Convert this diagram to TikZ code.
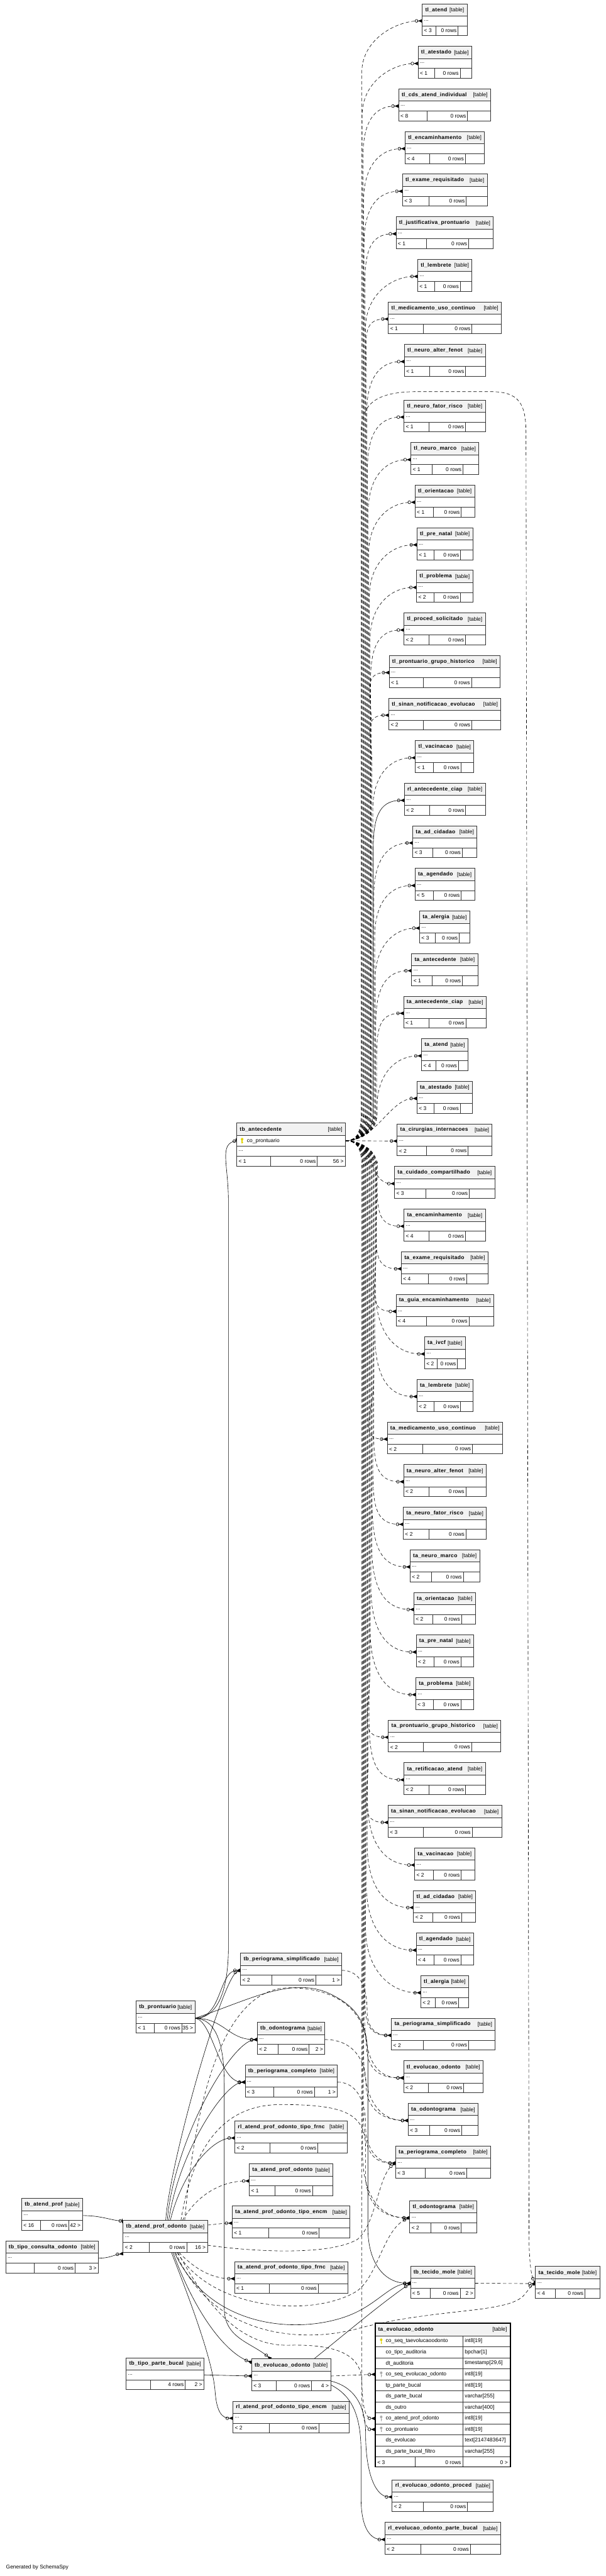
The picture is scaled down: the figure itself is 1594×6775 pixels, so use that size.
\documentclass[tikz,border=0pt]{standalone}
\usepackage{fontspec}
\setmainfont{Liberation Sans}
\newfontfamily\ttlfont[LetterSpace=4]{Liberation Sans}
\usetikzlibrary{arrows.meta,calc}
\pgfdeclarelayer{back}
\pgfdeclarelayer{edges}
\pgfsetlayers{back,edges,main}
\definecolor{hdr}{HTML}{F2F2F2}
\definecolor{bord}{HTML}{333333}
\definecolor{keyY}{HTML}{E2D400}
\definecolor{keyG}{HTML}{ABABAB}
\tikzset{
  every node/.style={inner sep=0pt, outer sep=0pt},
  ttl/.style={font=\ttlfont\bfseries\fontsize{10.5}{12}\selectfont, anchor=west},
  sub/.style={font=\fontsize{10.5}{12}\selectfont},
  tblbox/.style={draw=bord, line width=1.1pt, anchor=north west},
  rel/.style={line width=0.75pt, draw=black},
  dsh/.style={rel, dash pattern=on 6.5pt off 4.5pt},
  many/.style={-{Circle[open,length=6.5pt,width=6.5pt,line width=0.8pt] Triangle[reversed,length=8pt,width=7pt]}},
  one/.style={-{Circle[open,length=6.5pt,width=6.5pt,line width=0.8pt] Bar[width=9pt,line width=1.6pt]}},
}
% table: id, x, y, width, title, footer left, footer mid, footer right
\newcommand{\tbl}[8]{%
  \pgfmathsetmacro{\sA}{#2+0.31*#4}%
  \pgfmathsetmacro{\sB}{#2+#4-max(0.3*#4-12,20)}%
  \fill[white] (#2,#3) rectangle ++(#4,84);
  \fill[hdr] (#2,#3) rectangle ++(#4,32);
  \draw[bord, line width=1pt] (#2,#3+32) -- ++(#4,0) (#2,#3+58) -- ++(#4,0) (\sA,#3+58) -- ++(0,26) (\sB,#3+58) -- ++(0,26);
  \node[tblbox, minimum width=#4*0.75pt, minimum height=84*0.75pt] (#1) at (#2,#3) {};
  \node[ttl] (#1-t) at (#2+8,#3+16) {#5};
  \node[sub, anchor=east] (#1-k) at (#2+#4-8,#3+17) {[table]};
  \node[sub, anchor=west] (#1-d) at (#2+5,#3+44) {...};
  \node[sub, anchor=west] (#1-f1) at (#2+5,#3+71) {#6};
  \node[sub, anchor=east] (#1-f2) at (\sB-4,#3+71) {#7};
  \node[sub, anchor=east] (#1-f3) at (#2+#4-5,#3+71) {#8};
  \coordinate (#1-in) at (#2,#3+45);
  \coordinate (#1-out) at (#2+#4,#3+45);
}
\newcommand{\keyicon}[3]{%
  \fill[#3] (#1,#2-4) circle[radius=3.4];
  \draw[#3, line width=1.6pt] (#1,#2-2) -- (#1,#2+7);
  \draw[#3, line width=1.2pt] (#1,#2+4) -- (#1+2.8,#2+4);
}
\begin{document}
\begin{tikzpicture}[x=0.75pt,y=-0.75pt]
\begin{pgfonlayer}{back}
\fill[white] (0,0) rectangle (1594,6775);
\end{pgfonlayer}
\useasboundingbox (0,0) rectangle (1594,6775);

% ---------- right column ----------
\tbl{tlatend}{1111}{10}{118}{tl\_atend}{< 3}{0 rows}{}
\tbl{tlatestado}{1100}{122}{141}{tl\_atestado}{< 1}{0 rows}{}
\tbl{tlcds}{1049}{234}{242}{tl\_cds\_atend\_individual}{< 8}{0 rows}{}
\tbl{tlenc}{1066}{346}{209}{tl\_encaminhamento}{< 4}{0 rows}{}
\tbl{tlexame}{1059}{458}{223}{tl\_exame\_requisitado}{< 3}{0 rows}{}
\tbl{tljust}{1042}{570}{256}{tl\_justificativa\_prontuario}{< 1}{0 rows}{}
\tbl{tllemb}{1099}{682}{143}{tl\_lembrete}{< 1}{0 rows}{}
\tbl{tlmedic}{1022}{794}{297}{tl\_medicamento\_uso\_continuo}{< 1}{0 rows}{}
\tbl{tlneuroalter}{1064}{906}{213}{tl\_neuro\_alter\_fenot}{< 1}{0 rows}{}
\tbl{tlneurofator}{1063}{1052}{214}{tl\_neuro\_fator\_risco}{< 1}{0 rows}{}
\tbl{tlneuromarco}{1081}{1164}{179}{tl\_neuro\_marco}{< 1}{0 rows}{}
\tbl{tlorient}{1092}{1276}{157}{tl\_orientacao}{< 1}{0 rows}{}
\tbl{tlprenatal}{1097}{1388}{147}{tl\_pre\_natal}{< 1}{0 rows}{}
\tbl{tlproblema}{1096}{1500}{148}{tl\_problema}{< 2}{0 rows}{}
\tbl{tlproced}{1063}{1612}{214}{tl\_proced\_solicitado}{< 2}{0 rows}{}
\tbl{tlprontgrupo}{1024}{1724}{292}{tl\_prontuario\_grupo\_historico}{< 1}{0 rows}{}
\tbl{tlsinan}{1023}{1836}{295}{tl\_sinan\_notificacao\_evolucao}{< 2}{0 rows}{}
\tbl{tlvacina}{1093}{1948}{154}{tl\_vacinacao}{< 1}{0 rows}{}
\tbl{rlanteciap}{1064}{2060}{213}{rl\_antecedente\_ciap}{< 2}{0 rows}{}
\tbl{taadcid}{1086}{2172}{169}{ta\_ad\_cidadao}{< 3}{0 rows}{}
\tbl{taagend}{1092}{2284}{157}{ta\_agendado}{< 5}{0 rows}{}
\tbl{taalergia}{1104}{2396}{132}{ta\_alergia}{< 3}{0 rows}{}
\tbl{taantec}{1083}{2508}{174}{ta\_antecedente}{< 1}{0 rows}{}
\tbl{taanteciap}{1062}{2620}{217}{ta\_antecedente\_ciap}{< 1}{0 rows}{}
\tbl{taatend}{1109}{2732}{122}{ta\_atend}{< 4}{0 rows}{}
\tbl{taatestado}{1097}{2844}{146}{ta\_atestado}{< 3}{0 rows}{}
\tbl{tacirurg}{1045}{2956}{250}{ta\_cirurgias\_internacoes}{< 2}{0 rows}{}
\tbl{tacuidado}{1038}{3068}{264}{ta\_cuidado\_compartilhado}{< 3}{0 rows}{}
\tbl{taencam}{1063}{3180}{214}{ta\_encaminhamento}{< 4}{0 rows}{}
\tbl{taexame}{1056}{3292}{228}{ta\_exame\_requisitado}{< 4}{0 rows}{}
\tbl{taguia}{1042}{3404}{257}{ta\_guia\_encaminhamento}{< 4}{0 rows}{}
\tbl{taivcf}{1117}{3516}{107}{ta\_ivcf}{< 2}{0 rows}{}
\tbl{talemb}{1097}{3628}{147}{ta\_lembrete}{< 2}{0 rows}{}
\tbl{tamedic}{1019}{3740}{303}{ta\_medicamento\_uso\_continuo}{< 2}{0 rows}{}
\tbl{taneuroalter}{1062}{3852}{217}{ta\_neuro\_alter\_fenot}{< 2}{0 rows}{}
\tbl{taneurofator}{1061}{3964}{219}{ta\_neuro\_fator\_risco}{< 2}{0 rows}{}
\tbl{taneuromarco}{1079}{4076}{183}{ta\_neuro\_marco}{< 2}{0 rows}{}
\tbl{taorient}{1089}{4188}{162}{ta\_orientacao}{< 2}{0 rows}{}
\tbl{taprenatal}{1095}{4300}{151}{ta\_pre\_natal}{< 2}{0 rows}{}
\tbl{taproblema}{1094}{4412}{152}{ta\_problema}{< 3}{0 rows}{}
\tbl{taprontgrupo}{1022}{4524}{296}{ta\_prontuario\_grupo\_historico}{< 2}{0 rows}{}
\tbl{taretif}{1063}{4636}{214}{ta\_retificacao\_atend}{< 2}{0 rows}{}
\tbl{tasinan}{1021}{4748}{299}{ta\_sinan\_notificacao\_evolucao}{< 3}{0 rows}{}
\tbl{tavacina}{1091}{4860}{158}{ta\_vacinacao}{< 2}{0 rows}{}
\tbl{tladcid}{1088}{4972}{164}{tl\_ad\_cidadao}{< 2}{0 rows}{}
\tbl{tlagend}{1095}{5084}{151}{tl\_agendado}{< 4}{0 rows}{}
\tbl{tlalergia}{1107}{5196}{126}{tl\_alergia}{< 2}{0 rows}{}
\tbl{taperiosimp}{1030}{5308}{273}{ta\_periograma\_simplificado}{< 2}{0 rows}{}
\tbl{tlevolodonto}{1062}{5420}{209}{tl\_evolucao\_odonto}{< 2}{0 rows}{}
\tbl{taodontograma}{1074}{5532}{184}{ta\_odontograma}{< 3}{0 rows}{}
\tbl{taperiocomp}{1041}{5644}{250}{ta\_periograma\_completo}{< 3}{0 rows}{}
\tbl{tlodontograma}{1078}{5788}{177}{tl\_odontograma}{< 2}{0 rows}{}
\tbl{tbtecidomole}{1080}{5960}{170}{tb\_tecido\_mole}{< 5}{0 rows}{2 >}
\tbl{tatecidomole}{1409}{5961}{169}{ta\_tecido\_mole}{< 4}{0 rows}{}
\tbl{rlevolproced}{1032}{6522}{266}{rl\_evolucao\_odonto\_proced}{< 2}{0 rows}{}
\tbl{rlevolparte}{1013}{6634}{304}{rl\_evolucao\_odonto\_parte\_bucal}{< 2}{0 rows}{}

% ---------- middle and left ----------
\tbl{tbpront}{358}{5263}{155}{tb\_prontuario}{< 1}{0 rows}{35 >}
\tbl{tbperiosimp}{633}{5137}{266}{tb\_periograma\_simplificado}{< 2}{0 rows}{1 >}
\tbl{tbodontograma}{677}{5319}{178}{tb\_odontograma}{< 2}{0 rows}{2 >}
\tbl{tbperiocomp}{645}{5431}{243}{tb\_periograma\_completo}{< 3}{0 rows}{1 >}
\tbl{rlapotfrnc}{618}{5578}{295}{rl\_atend\_prof\_odonto\_tipo\_frnc}{< 2}{0 rows}{}
\tbl{taapo}{656}{5691}{220}{ta\_atend\_prof\_odonto}{< 1}{0 rows}{}
\tbl{taapoencm}{611}{5802}{310}{ta\_atend\_prof\_odonto\_tipo\_encm}{< 1}{0 rows}{}
\tbl{taapofrnc}{617}{5948}{298}{ta\_atend\_prof\_odonto\_tipo\_frnc}{< 1}{0 rows}{}
\tbl{tbevol}{662}{6204}{208}{tb\_evolucao\_odonto}{< 3}{0 rows}{4 >}
\tbl{rlapoencm}{613}{6315}{306}{rl\_atend\_prof\_odonto\_tipo\_encm}{< 2}{0 rows}{}
\tbl{tbatendprof}{57}{5782}{160}{tb\_atend\_prof}{< 16}{0 rows}{42 >}
\tbl{tbtipocons}{15}{5894}{244}{tb\_tipo\_consulta\_odonto}{}{0 rows}{3 >}
\tbl{tbapo}{324}{5840}{222}{tb\_atend\_prof\_odonto}{< 2}{0 rows}{16 >}
\tbl{tbtipoparte}{332}{6201}{205}{tb\_tipo\_parte\_bucal}{}{4 rows}{2 >}

% ---------- tb_antecedente ----------
\fill[white] (623,2954) rectangle ++(286,113);
\fill[hdr] (623,2954) rectangle ++(286,32);
\draw[bord, line width=1pt] (623,2986) -- ++(286,0) (623,3015) -- ++(286,0) (623,3041) -- ++(286,0) (712,3041) -- ++(0,26) (835,3041) -- ++(0,26);
\node[tblbox, minimum width=286*0.75pt, minimum height=113*0.75pt] (tbante) at (623,2954) {};
\node[ttl] (tbante-t) at (631,2970) {tb\_antecedente};
\node[sub, anchor=east] (tbante-k) at (901,2971) {[table]};
\keyicon{637}{3000}{keyY}
\node[sub, anchor=west] (tbante-c) at (650,3001) {co\_prontuario};
\node[sub, anchor=west] (tbante-d) at (628,3027) {...};
\node[sub, anchor=west] (tbante-f1) at (628,3055) {< 1};
\node[sub, anchor=east] (tbante-f2) at (831,3055) {0 rows};
\node[sub, anchor=east] (tbante-f3) at (904,3055) {56 >};
\coordinate (tbante-in) at (623,3000);
\coordinate (tbante-out) at (909,3000);

% ---------- ta_evolucao_odonto ----------
\fill[white] (987,6110) rectangle ++(356,378);
\fill[hdr] (987,6110) rectangle ++(356,33);
\foreach \i in {0,...,11} \draw[bord, line width=1pt] (987,6143+29*\i) -- ++(356,0);
\draw[bord, line width=1pt] (1218,6143) -- (1218,6488) (1093,6462) -- (1093,6488);
\node[draw=black, line width=2.2pt, anchor=north west, minimum width=356*0.75pt, minimum height=378*0.75pt] (taevol) at (987,6110) {};
\node[ttl] (taevol-t) at (995,6126) {ta\_evolucao\_odonto};
\node[sub, anchor=east] (taevol-k) at (1334,6127) {[table]};
\foreach \i/\cn/\ty in {1/co\_seq\_taevolucaoodonto/int8[19], 2/co\_tipo\_auditoria/bpchar[1], 3/dt\_auditoria/{timestamp[29,6]}, 4/co\_seq\_evolucao\_odonto/int8[19], 5/tp\_parte\_bucal/int8[19], 6/ds\_parte\_bucal/varchar[255], 7/ds\_outro/varchar[400], 8/co\_atend\_prof\_odonto/int8[19], 9/co\_prontuario/int8[19], 10/ds\_evolucao/text[2147483647], 11/ds\_parte\_bucal\_filtro/varchar[255]} {
  \node[sub, anchor=west] (taevol-n\i) at (1015,6128.5+29*\i) {\cn};
  \node[sub, anchor=west] (taevol-y\i) at (1223,6128.5+29*\i) {\ty};
  \coordinate (taevol-r\i) at (987,6128.5+29*\i);
}
\keyicon{1003}{6157.5}{keyY}
\keyicon{1003}{6244.5}{keyG}
\keyicon{1003}{6360.5}{keyG}
\keyicon{1003}{6389.5}{keyG}
\node[sub, anchor=west] (taevol-f1) at (993,6476) {< 3};
\node[sub, anchor=east] (taevol-f2) at (1213,6476) {0 rows};
\node[sub, anchor=east] (taevol-f3) at (1336,6476) {0 >};

\node[sub, anchor=west] (gen) at (16,6753) {Generated by SchemaSpy};

% ---------- ports ----------
\coordinate (tbapo-in1) at (323,5841);
\coordinate (tbapo-in2) at (324,5927);
\coordinate (tbapo-t1) at (436,5840);
\coordinate (tbapo-t2) at (440,5840);
\coordinate (tbapo-t3) at (444,5840);
\coordinate (tbapo-t4) at (448,5840);
\coordinate (tbapo-t5) at (480,5840);
\coordinate (tbapo-t6) at (486,5840);
\coordinate (tbapo-t7) at (476,5840);
\coordinate (tbapo-r1) at (546,5852);
\coordinate (tbapo-r2) at (546,5905);
\coordinate (tbapo-b1) at (471,5924);
\coordinate (tbapo-b2) at (455,5924);
\coordinate (tbapo-b3) at (451,5924);
\coordinate (tbapo-b4) at (459,5924);
\coordinate (tbapo-b5) at (466,5924);
\coordinate (tbapo-b6) at (462,5924);
\coordinate (tbapo-b7) at (468,5924);
\coordinate (tbevol-top) at (712,6204);
\coordinate (tbevol-tl) at (662,6213);
\coordinate (tbevol-tr) at (826,6204);
\coordinate (tbevol-o2) at (870,6262);
\coordinate (tbevol-o3) at (870,6272);

% ---------- connectors ----------
\begin{pgfonlayer}{edges}
\foreach \nm/\yt/\vx/\st in {tlatend/55/952/dsh, tlatestado/167/953/dsh, tlcds/279/955/dsh, tlenc/391/957/dsh, tlexame/503/958/dsh, tljust/615/960/dsh, tllemb/727/962/dsh, tlmedic/839/964/dsh, tlneuroalter/951/965/dsh, tlneurofator/1097/967/dsh, tlneuromarco/1209/969/dsh, tlorient/1321/970/dsh, tlprenatal/1433/972/dsh, tlproblema/1545/974/dsh, tlproced/1657/975/dsh, tlprontgrupo/1769/977/dsh, tlsinan/1881/979/dsh, tlvacina/1993/981/dsh, rlanteciap/2105/982/rel, taadcid/2217/984/dsh, taagend/2329/986/dsh, taalergia/2441/987/dsh, taantec/2553/989/dsh, taanteciap/2665/991/dsh, taatend/2777/992/dsh} {
  \draw[\st,many] (tbante-out) .. controls (935,3000) and (\vx,2985) .. (\vx,2930) -- (\vx,\yt+135) .. controls (\vx,\yt+50) and ($(\nm-in)+(-70,0)$) .. (\nm-in);
}
\draw[dsh,many] (tbante-out) .. controls (990,3000) and ($(taatestado-in)+(-70,0)$) .. (taatestado-in);
\draw[dsh,many] (tbante-out) -- (tacirurg-in);
\draw[dsh,many] (tbante-out) .. controls (990,3000) and ($(tacuidado-in)+(-70,0)$) .. (tacuidado-in);
\foreach \nm/\yt/\vx/\st in {taencam/3225/993/dsh, taexame/3337/991/dsh, taguia/3449/990/dsh, taivcf/3561/988/dsh, talemb/3673/986/dsh, tamedic/3785/984/dsh, taneuroalter/3897/983/dsh, taneurofator/4009/981/dsh, taneuromarco/4121/979/dsh, taorient/4233/978/dsh, taprenatal/4345/976/dsh, taproblema/4457/974/dsh, taprontgrupo/4569/973/dsh, taretif/4681/971/dsh, tasinan/4793/969/dsh, tavacina/4905/967/dsh, tladcid/5017/966/dsh, tlagend/5129/964/dsh, tlalergia/5241/962/dsh, taperiosimp/5353/961/dsh, tlevolodonto/5465/959/dsh, taodontograma/5577/957/dsh, taperiocomp/5689/956/dsh, tlodontograma/5833/954/dsh} {
  \draw[\st,many] (tbante-out) .. controls (935,3000) and (\vx,3015) .. (\vx,3070) -- (\vx,\yt-170) .. controls (\vx,\yt-60) and ($(\nm-in)+(-80,0)$) .. (\nm-in);
}
\draw[dsh,many] (tbante-out) .. controls (935,3000) and (952,3015) .. (952,3070) -- (952,6300) .. controls (952,6360) and (962,6389) .. (taevol-r9);
\draw[dsh,many] (tbante-out) .. controls (935,3000) and (950,2985) .. (950,2930) -- (950,1140) .. controls (950,1060) and (990,1030) .. (1100,1030) -- (1290,1030) .. controls (1365,1030) and (1384,1060) .. (1384,1140) -- (1392,5900) .. controls (1394,5960) and (1398,5985) .. (tatecidomole-in);

% tb_prontuario
\draw[rel,one] (tbpront-out) .. controls (575,5308) and (601,5230) .. (601,5120) -- (601,3160) .. controls (601,3060) and (575,3008) .. (tbante-in);
\draw[rel,many] (tbpront-out) .. controls (585,5308) and (575,5182) .. (tbperiosimp-in);
\draw[rel,many] (tbpront-out) .. controls (590,5308) and (600,5364) .. (tbodontograma-in);
\draw[rel,many] (tbpront-out) .. controls (560,5312) and (575,5476) .. (tbperiocomp-in);
\draw[rel,many] (tbpront-out) .. controls (570,5310) and (590,5380) .. (590,5480) -- (590,6070) .. controls (590,6150) and (660,6160) .. (tbevol-top);
\draw[rel,many] (tbpront-out) .. controls (650,5262) and (760,5200) .. (860,5240) .. controls (950,5280) and (968,5330) .. (968,5420) -- (968,5860) .. controls (968,5950) and (1010,6005) .. (tbtecidomole-in);

% tb_atend_prof_odonto
\draw[rel,many] (tbapo-t1) .. controls (446,5690) and (585,5200) .. (tbperiosimp-in);
\draw[rel,many] (tbapo-t2) .. controls (460,5620) and (610,5370) .. (tbodontograma-in);
\draw[rel,many] (tbapo-t3) .. controls (470,5660) and (590,5480) .. (tbperiocomp-in);
\draw[rel,many] (tbapo-t4) .. controls (480,5710) and (560,5623) .. (rlapotfrnc-in);
\draw[dsh,many] (tbapo-t5) .. controls (520,5770) and (585,5736) .. (taapo-in);
\draw[dsh,many] (tbapo-r1) .. controls (570,5850) and (585,5847) .. (taapoencm-in);
\draw[dsh,many] (tbapo-b1) .. controls (520,5975) and (565,5993) .. (taapofrnc-in);
\draw[rel,many] (tbapo-b2) .. controls (520,6100) and (600,6190) .. (tbevol-tl);
\draw[rel,many] (tbapo-b3) .. controls (540,6150) and (562,6240) .. (566,6290) .. controls (570,6345) and (585,6360) .. (rlapoencm-in);
\draw[rel,many] (tbapo-b4) .. controls (560,6140) and (820,6140) .. (940,6080) .. controls (1000,6050) and (1030,6008) .. (tbtecidomole-in);
\draw[dsh,many] (tbapo-t6) .. controls (520,5450) and (610,5228) .. (760,5228) .. controls (900,5228) and (962,5300) .. (964,5380) .. controls (966,5445) and (1000,5465) .. (tlevolodonto-in);
\draw[dsh,many] (tbapo-t7) .. controls (515,5600) and (620,5535) .. (740,5535) .. controls (910,5535) and (962,5560) .. (962,5650) -- (962,5720) .. controls (962,5800) and (1010,5833) .. (tlodontograma-in);
\draw[dsh,many] (tbapo-r2) .. controls (650,5920) and (860,5935) .. (940,5890) .. controls (990,5850) and (995,5720) .. (taperiocomp-in);
\draw[dsh,many] (tbapo-b5) .. controls (560,6080) and (830,6095) .. (940,6025) .. controls (995,5985) and (1010,5860) .. (tlodontograma-in);
\draw[dsh,many] (tbapo-b6) .. controls (560,6150) and (800,6165) .. (950,6122) .. controls (1150,6070) and (1340,6085) .. (1380,6035) .. controls (1392,6020) and (1400,6010) .. (tatecidomole-in);
\draw[dsh,many] (tbapo-b7) .. controls (560,6095) and (650,6170) .. (760,6168) .. controls (880,6165) and (950,6190) .. (952,6262) .. controls (954,6330) and (960,6360) .. (taevol-r8);

% odonto base tables to audit/log tables
\draw[dsh,many] (tbperiosimp-out) .. controls (950,5182) and (966,5230) .. (966,5290) .. controls (966,5335) and (990,5353) .. (taperiosimp-in);
\draw[dsh,many] (tbodontograma-out) .. controls (930,5364) and (963,5420) .. (963,5480) .. controls (963,5550) and (1010,5577) .. (taodontograma-in);
\draw[dsh,many] (tbperiocomp-out) .. controls (935,5476) and (962,5520) .. (962,5590) .. controls (962,5660) and (1000,5689) .. (taperiocomp-in);
\draw[dsh,many] (tbevol-out) -- (taevol-r4);
\draw[rel,many] (tbevol-tr) .. controls (900,6145) and (1000,6060) .. (tbtecidomole-in);
\draw[dsh,many] (tbtecidomole-out) -- (tatecidomole-in);
\draw[rel,many] (tbevol-o2) .. controls (935,6278) and (962,6330) .. (962,6400) .. controls (962,6510) and (990,6567) .. (rlevolproced-in);
\draw[rel,many] (tbevol-o3) .. controls (925,6300) and (950,6350) .. (950,6450) -- (950,6570) .. controls (950,6650) and (975,6679) .. (rlevolparte-in);
\draw[rel,many] (tbtipoparte-out) -- (tbevol-in);
\draw[rel,one] (tbatendprof-out) .. controls (270,5827) and (295,5841) .. (tbapo-in1);
\draw[rel,many] (tbtipocons-out) .. controls (290,5939) and (300,5930) .. (tbapo-in2);
\end{pgfonlayer}
\end{tikzpicture}
\end{document}
